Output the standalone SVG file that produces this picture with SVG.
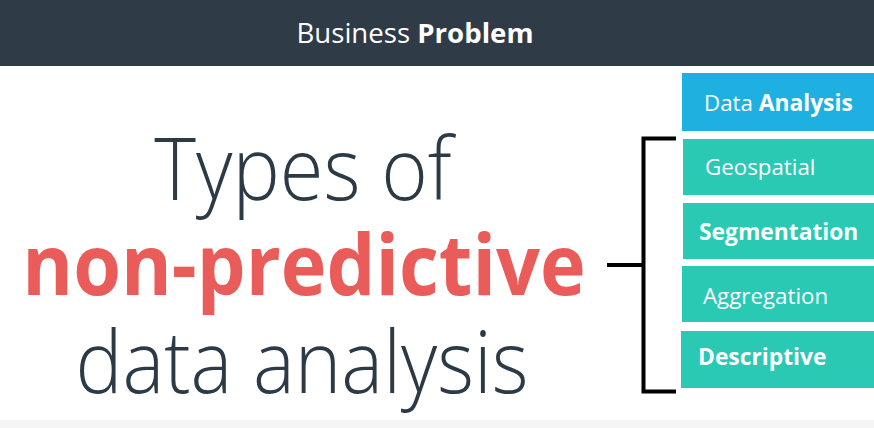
<svg xmlns="http://www.w3.org/2000/svg" width="874" height="428" viewBox="0 0 874 428">
<style>
.big{font-family:"Open Sans","Liberation Sans",sans-serif;font-size:86px;fill:#2c3a46;font-weight:300;text-anchor:middle}
.red{font-family:"Open Sans","Liberation Sans",sans-serif;font-size:85px;fill:#ea5c59;font-weight:700;text-anchor:middle}
.lbl{font-family:"Open Sans","Liberation Sans",sans-serif;font-size:22.3px;fill:#ffffff}
.b{font-weight:700;font-size:22.8px}
.teal{fill:#29c9b4}
.br{fill:none;stroke:#000;stroke-width:4}
</style>
<rect x="0" y="0" width="874" height="428" fill="#ffffff"/>
<rect x="0" y="420" width="874" height="8" fill="#f5f5f5"/>
<g id="header">
<rect x="0" y="0" width="874" height="66" fill="#2f3b47"/>
<text x="415" y="43" font-family="Open Sans, Liberation Sans, sans-serif" font-size="27.6" fill="#ffffff" text-anchor="middle"><tspan font-weight="400">Business </tspan><tspan font-weight="700">Problem</tspan></text>
</g>
<g id="title">
<text class="big" transform="translate(303 200) scale(0.925 1)">Types of</text>
<text class="red" transform="translate(304 295) scale(0.91 1)">non-predictive</text>
<text class="big" transform="translate(302 393) scale(0.918 1)">data analysis</text>
</g>
<g id="connectors">
<path class="br" d="M676 138.5 H643.5 V391.5 H676"/>
<path class="br" d="M607 265 H643.5"/>
</g>
<g id="data-analysis">
<rect x="682" y="73" width="192" height="58" fill="#1fb0e2"/>
<text class="lbl" x="704" y="111">Data <tspan class="b">Analysis</tspan></text>
</g>
<g id="geospatial">
<rect class="teal" x="683" y="139" width="191" height="56"/>
<text class="lbl" x="705" y="175">Geospatial</text>
</g>
<g id="segmentation">
<rect class="teal" x="683" y="203" width="191" height="56"/>
<text class="lbl b" x="699" y="240">Segmentation</text>
</g>
<g id="aggregation">
<rect class="teal" x="682" y="266" width="192" height="56"/>
<text class="lbl" x="703" y="304">Aggregation</text>
</g>
<g id="descriptive">
<rect class="teal" x="681" y="331" width="193" height="57"/>
<text class="lbl b" x="698" y="365">Descriptive</text>
</g>
</svg>
